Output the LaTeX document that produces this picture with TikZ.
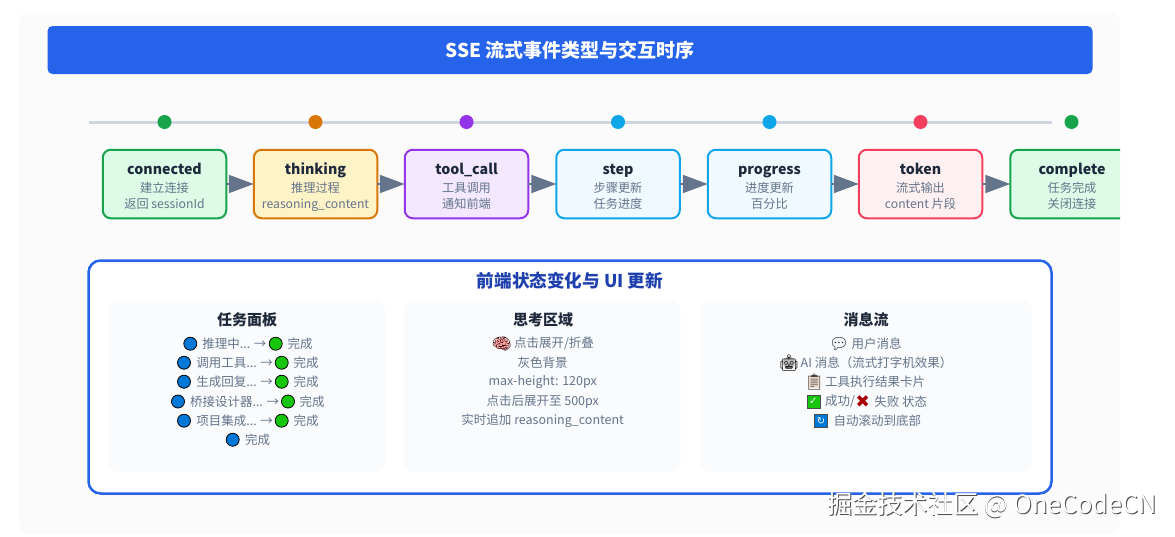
\documentclass[tikz,border=0pt]{standalone}
\usepackage{fontspec}
\setmainfont{Noto Sans CJK SC}
\newfontfamily\emojifont{Noto Emoji}
\newfontfamily\dejafont{DejaVu Sans}
\usetikzlibrary{arrows.meta,shapes.geometric}
\definecolor{pagepanel}{HTML}{FBFBFC}
\definecolor{mainblue}{HTML}{2563EB}
\definecolor{tline}{HTML}{D0D5E2}
\definecolor{darktext}{HTML}{1E293B}
\definecolor{graytext}{HTML}{64748B}
\definecolor{arrowgray}{HTML}{64748B}
\definecolor{cgreen}{HTML}{16A34A}\definecolor{fgreen}{HTML}{DCFCE7}
\definecolor{corange}{HTML}{D97706}\definecolor{forange}{HTML}{FEF3C7}
\definecolor{cpurple}{HTML}{9333EA}\definecolor{fpurple}{HTML}{F3E8FF}
\definecolor{csky}{HTML}{0EA5E9}\definecolor{fsky}{HTML}{F0F9FF}
\definecolor{cred}{HTML}{F43F5E}\definecolor{fred}{HTML}{FFF1F2}
\definecolor{subpanel}{HTML}{FAFBFD}
\definecolor{emblue}{HTML}{0078D7}
\definecolor{emgreen}{HTML}{16C60C}
\definecolor{paneltitle}{HTML}{1E40AF}
\tikzset{
  x=1pt,y=-1pt,
  evbox/.style={rectangle,rounded corners=8pt,line width=2pt,minimum width=123.5pt,minimum height=68.5pt,inner sep=0pt,outer sep=0pt,align=center,text=graytext,font=\fontsize{12.2}{16}\selectfont},
  tdot/.style={circle,minimum size=14pt,inner sep=0pt,outer sep=0pt},
  flow/.style={draw=arrowgray,line width=2pt,-{Triangle[length=25pt,width=18pt]}},
  subbox/.style={rectangle,rounded corners=10pt,fill=subpanel,inner sep=0pt,outer sep=0pt},
  rowtxt/.style={inner sep=0pt,outer sep=0pt,text=graytext,font=\fontsize{12.5}{16}\selectfont,anchor=west},
  rowmid/.style={inner sep=0pt,outer sep=0pt,text=graytext,font=\fontsize{12.5}{16}\selectfont},
  subtitle/.style={inner sep=0pt,outer sep=0pt,text=darktext,font=\fontsize{15}{18}\selectfont\bfseries},
  bluedot/.style={circle,draw=black,line width=.8pt,fill=emblue,minimum size=13pt,inner sep=0pt,outer sep=0pt},
  greendot/.style={circle,draw=black,line width=.8pt,fill=emgreen,minimum size=13pt,inner sep=0pt,outer sep=0pt},
  emo/.style={inner sep=0pt,outer sep=0pt,font=\emojifont\fontsize{16}{18}\selectfont},
}
\newcommand{\evt}[1]{\rule{0pt}{19pt}{\fontsize{14.2}{18}\selectfont\bfseries\textcolor{darktext}{#1}}}
\newcommand{\lastline}{\rule[-4.5pt]{0pt}{4.5pt}}
\begin{document}
\begin{tikzpicture}
\useasboundingbox (0,0) rectangle (1175,536);
\fill[white] (0,0) rectangle (1175,536);
\fill[pagepanel,rounded corners=10pt] (19,12) rectangle (1120,534);
\node[rectangle,fill=mainblue,rounded corners=5pt,minimum width=1045pt,minimum height=48pt,inner sep=0pt,outer sep=0pt,text=white,font=\fontsize{19}{24}\selectfont\bfseries] (title) at (570,50) {SSE 流式事件类型与交互时序};
\coordinate (tlstart) at (89,122);
\coordinate (tlend) at (1052,122);
\draw[tline,line width=3pt] (tlstart) -- (tlend);
\node[tdot,fill=cgreen] (d1) at (164.5,122) {};
\node[tdot,fill=corange] (d2) at (315.5,122) {};
\node[tdot,fill=cpurple] (d3) at (466.5,122) {};
\node[tdot,fill=csky] (d4) at (618,122) {};
\node[tdot,fill=csky] (d5) at (769.5,122) {};
\node[tdot,fill=cred] (d6) at (920.5,122) {};
\node[tdot,fill=cgreen] (d7) at (1071.5,122) {};
\begin{scope}
\clip (0,0) rectangle (1120,536);
\node[evbox,draw=cgreen,fill=fgreen] (b1) at (164.5,184) {\evt{connected}\\[2pt]建立连接\\[.5pt]返回 sessionId\lastline};
\node[evbox,draw=corange,fill=forange] (b2) at (315.5,184) {\evt{thinking}\\[2pt]推理过程\\[.5pt]reasoning\_content\lastline};
\node[evbox,draw=cpurple,fill=fpurple] (b3) at (466.5,184) {\evt{tool\_call}\\[2pt]工具调用\\[.5pt]通知前端\lastline};
\node[evbox,draw=csky,fill=fsky] (b4) at (618,184) {\evt{step}\\[2pt]步骤更新\\[.5pt]任务进度\lastline};
\node[evbox,draw=csky,fill=fsky] (b5) at (769.5,184) {\evt{progress}\\[2pt]进度更新\\[.5pt]百分比\lastline};
\node[evbox,draw=cred,fill=fred] (b6) at (920.5,184) {\evt{token}\\[2pt]流式输出\\[.5pt]content 片段\lastline};
\node[evbox,draw=cgreen,fill=fgreen] (b7) at (1072,184) {\evt{complete}\\[2pt]任务完成\\[.5pt]关闭连接\lastline};
\end{scope}
\draw[flow] (b1.east) -- (b2.west);
\draw[flow] (b2.east) -- (b3.west);
\draw[flow] (b3.east) -- (b4.west);
\draw[flow] (b4.east) -- (b5.west);
\draw[flow] (b5.east) -- (b6.west);
\draw[flow] (b6.east) -- (b7.west);
\node[rectangle,draw=mainblue,fill=white,line width=2.5pt,rounded corners=12pt,minimum width=963pt,minimum height=233pt,inner sep=0pt,outer sep=0pt] (panel) at (570,377) {};
\node[inner sep=0pt,text=paneltitle,font=\fontsize{17.6}{20}\selectfont\bfseries] (ptitle) at (570,281) {前端状态变化与 UI 更新};
\node[subbox,minimum width=277pt,minimum height=172pt] (s1) at (246.5,386) {};
\node[subbox,minimum width=277pt,minimum height=172pt] (s2) at (542,386) {};
\node[subbox,minimum width=332pt,minimum height=172pt] (s3) at (866,386) {};
\node[subtitle] (s1t) at (247,320) {任务面板};
\node[subtitle] (s2t) at (543,320) {思考区域};
\node[subtitle] (s3t) at (866,320) {消息流};
% task panel
\node[bluedot] (r1a) at (190.3,343.7) {};
\node[rowtxt] (r1b) at (202.3,343.7) {推理中... →};
\node[greendot] (r1c) at (275.7,343.7) {};
\node[rowtxt] (r1d) at (287.7,343.7) {完成};
\node[bluedot] (r2a) at (184,362.7) {};
\node[rowtxt] (r2b) at (196.3,362.7) {调用工具... →};
\node[greendot] (r2c) at (281.7,362.7) {};
\node[rowtxt] (r2d) at (293.7,362.7) {完成};
\node[bluedot] (r3a) at (184,381.7) {};
\node[rowtxt] (r3b) at (196.3,381.7) {生成回复... →};
\node[greendot] (r3c) at (281.7,381.7) {};
\node[rowtxt] (r3d) at (293.7,381.7) {完成};
\node[bluedot] (r4a) at (178,401.5) {};
\node[rowtxt] (r4b) at (190,401.5) {桥接设计器... →};
\node[greendot] (r4c) at (288,401.5) {};
\node[rowtxt] (r4d) at (299.7,401.5) {完成};
\node[bluedot] (r5a) at (184,420.7) {};
\node[rowtxt] (r5b) at (196.3,420.7) {项目集成... →};
\node[greendot] (r5c) at (281.7,420.7) {};
\node[rowtxt] (r5d) at (293.7,420.7) {完成};
\node[bluedot] (r6a) at (232.7,439.7) {};
\node[rowtxt] (r6b) at (245,439.7) {完成};
% thinking panel
\fill[pink!90!red] (501.7,343.7) ellipse (7 and 5.5);
\node[emo,text=black!75!red] (t1e) at (501.7,343.7) {🧠};
\node[rowtxt] (t1) at (514,343.7) {点击展开/折叠};
\node[rowmid] (t2) at (542.7,362.7) {灰色背景};
\node[rowmid] (t3) at (542.7,381.7) {max-height: 120px};
\node[rowmid] (t4) at (542.7,401.5) {点击后展开至 500px};
\node[rowmid] (t5) at (542.7,420.7) {实时追加 reasoning\_content};
% message panel
\node[emo,text=darktext] (m1e) at (839,343.7) {💬};
\node[rowtxt] (m1) at (851.7,343.7) {用户消息};
\fill[gray!55] (789,362.7) circle (6);
\node[emo,text=black] (m2e) at (789,362.7) {🤖};
\node[rowtxt] (m2) at (800.7,362.7) {AI 消息（流式打字机效果）};
\fill[brown!30] (808.5,376) rectangle (820,388);
\node[emo,text=black!75] (m3e) at (814.3,381.7) {📋};
\node[rowtxt] (m3) at (825,381.7) {工具执行结果卡片};
\node[rectangle,draw=black!70,fill=emgreen,line width=.6pt,minimum size=13pt,inner sep=0pt,outer sep=0pt,text=white,font=\dejafont\fontsize{10}{11}\selectfont] (m4e) at (813.3,401.5) {✓};
\node[rowtxt] (m4) at (825,401.5) {成功/};
\node[inner sep=0pt,outer sep=0pt,text=red!65!black,font=\dejafont\fontsize{17}{18}\selectfont] (m4x) at (862.7,401.5) {✖};
\node[rowtxt] (m4b) at (874.3,401.5) {失败 状态};
\node[rectangle,draw=black!70,fill=emblue,line width=.6pt,minimum size=13pt,inner sep=0pt,outer sep=0pt,text=white,font=\dejafont\fontsize{10}{11}\selectfont] (m5e) at (821,420.7) {↻};
\node[rowtxt] (m5) at (833.7,420.7) {自动滚动到底部};
% watermark
\node[inner sep=0pt,text=black!70,font=\fontsize{25.2}{28}\selectfont,anchor=east] (wmshadow) at (1157.8,505.8) {掘金技术社区 @ OneCodeCN};
\node[inner sep=0pt,text=white,font=\fontsize{25.2}{28}\selectfont,anchor=east] (wm) at (1157,505) {掘金技术社区 @ OneCodeCN};
\end{tikzpicture}
\end{document}
